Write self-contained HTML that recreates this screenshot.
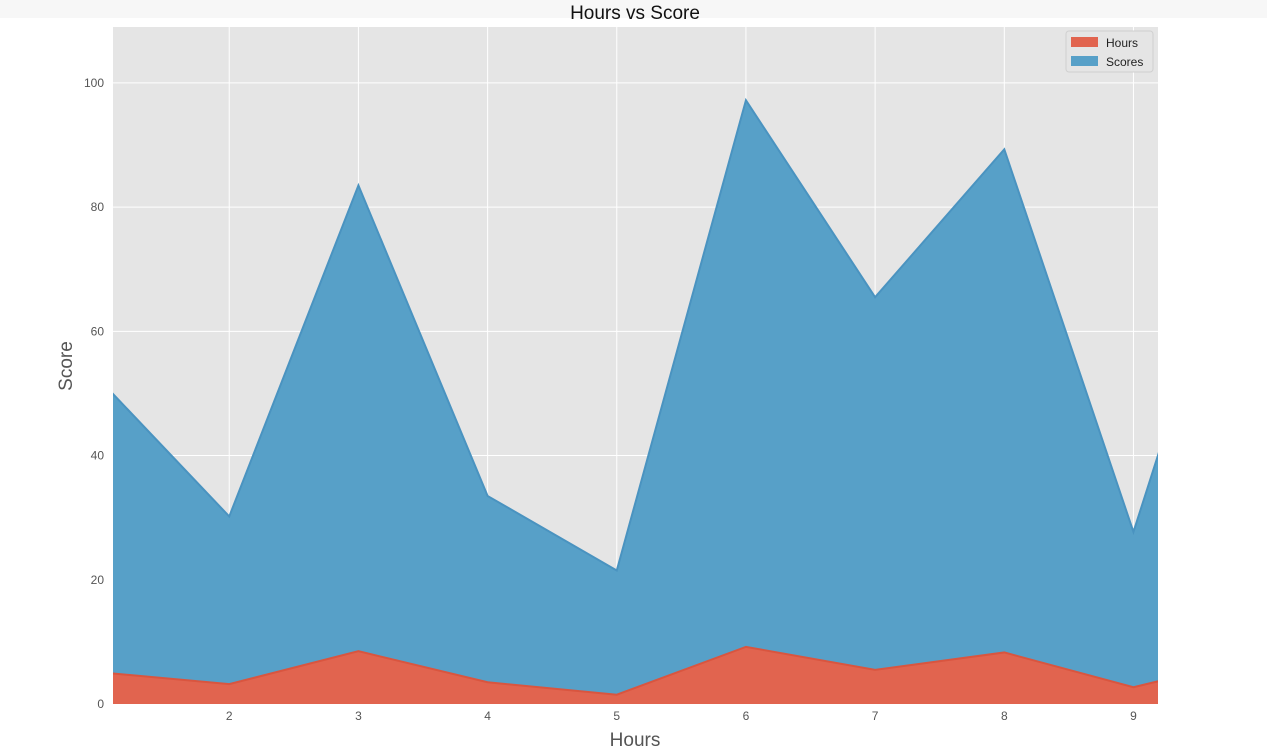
<!DOCTYPE html>
<html><head><meta charset="utf-8"><style>
body{margin:0;background:#fff;width:1267px;height:748px;overflow:hidden;font-family:"Liberation Sans",sans-serif}
</style></head><body>
<svg width="1267" height="748" xmlns="http://www.w3.org/2000/svg">
<rect x="0" y="0" width="1267" height="18" fill="#f7f7f7"/>
<text x="635" y="19" font-size="19" text-anchor="middle" fill="#111">Hours vs Score</text>
<rect x="113" y="27" width="1045" height="677" fill="#e5e5e5"/>
<g id="grid"></g>
<g id="areas"></g>
<g id="ticks"></g>
<text x="635" y="746" font-size="19" text-anchor="middle" fill="#555">Hours</text>
<text x="72" y="366" font-size="19" text-anchor="middle" fill="#555" transform="rotate(-90 72 366)">Score</text>
<g>
<rect x="1066" y="31" width="87" height="41" fill="#e5e5e5" stroke="#d0d0d0" rx="3"/>
<rect x="1071" y="37" width="27" height="10" fill="#e1644f"/>
<text x="1106" y="47" font-size="12" fill="#222">Hours</text>
<rect x="1071" y="56" width="27" height="10" fill="#57a0c8"/>
<text x="1106" y="66" font-size="12" fill="#222">Scores</text>
</g>
</svg>
<script>
const xIndex=[0,1,2,3,4,5,6,7,8,9,10];
const hours=[2.5,5.1,3.2,8.5,3.5,1.5,9.2,5.5,8.3,2.7,7.7];
const scores=[21,47,27,75,30,20,88,60,81,25,85];
const xTicks=[2,3,4,5,6,7,8,9];
const yTicks=[0,20,40,60,80,100];
const NS="http://www.w3.org/2000/svg";
const X0=113,X1=1158,Y0=704,Y1=27,xmin=1.1,xmax=9.19,ymax=109;
const sx=v=>X0+(v-xmin)/(xmax-xmin)*(X1-X0);
const sy=v=>Y0-v/ymax*(Y0-Y1);
function mk(t,a,p){const e=document.createElementNS(NS,t);for(const k in a)e.setAttribute(k,a[k]);p.appendChild(e);return e;}
const grid=document.getElementById('grid'),areas=document.getElementById('areas'),ticks=document.getElementById('ticks');
xTicks.forEach(t=>{const l=mk('line',{x1:sx(t),x2:sx(t),y1:Y1,y2:Y0,stroke:'#fff','stroke-width':1},grid);


const tx=mk('text',{x:sx(t),y:Y0+16,'font-size':12,'text-anchor':'middle',fill:'#555'},ticks);tx.textContent=t;

});
yTicks.forEach(t=>{const l=mk('line',{x1:X0,x2:X1,y1:sy(t),y2:sy(t),stroke:'#fff','stroke-width':1},grid);


const tx=mk('text',{x:X0-9,y:sy(t)+4,'font-size':12,'text-anchor':'end',fill:'#555'},ticks);tx.textContent=t;

});
const clip=mk('clipPath',{id:'pc'},areas);mk('rect',{x:X0,y:Y1,width:X1-X0,height:Y0-Y1},clip);
const g=mk('g',{'clip-path':'url(#pc)'},areas);
const stackTop=hours.map((h,i)=>h+scores[i]);
const pts=arr=>xIndex.map((x,i)=>sx(x)+','+sy(arr[i])).join(' ');
const lastX=xIndex[xIndex.length-1],firstX=xIndex[0];
const blue=mk('polygon',{points:pts(stackTop)+' '+xIndex.slice().reverse().map((x,j)=>sx(x)+','+sy(hours[hours.length-1-j])).join(' '),fill:'#57a0c8'},g);


const red=mk('polygon',{points:pts(hours)+' '+sx(lastX)+','+sy(0)+' '+sx(firstX)+','+sy(0),fill:'#e1644f'},g);


const bl=mk('polyline',{points:pts(stackTop),fill:'none',stroke:'#4a93c0','stroke-width':2},g);


const rl=mk('polyline',{points:pts(hours),fill:'none',stroke:'#d9553f','stroke-width':2},g);


</script>
</body></html>
